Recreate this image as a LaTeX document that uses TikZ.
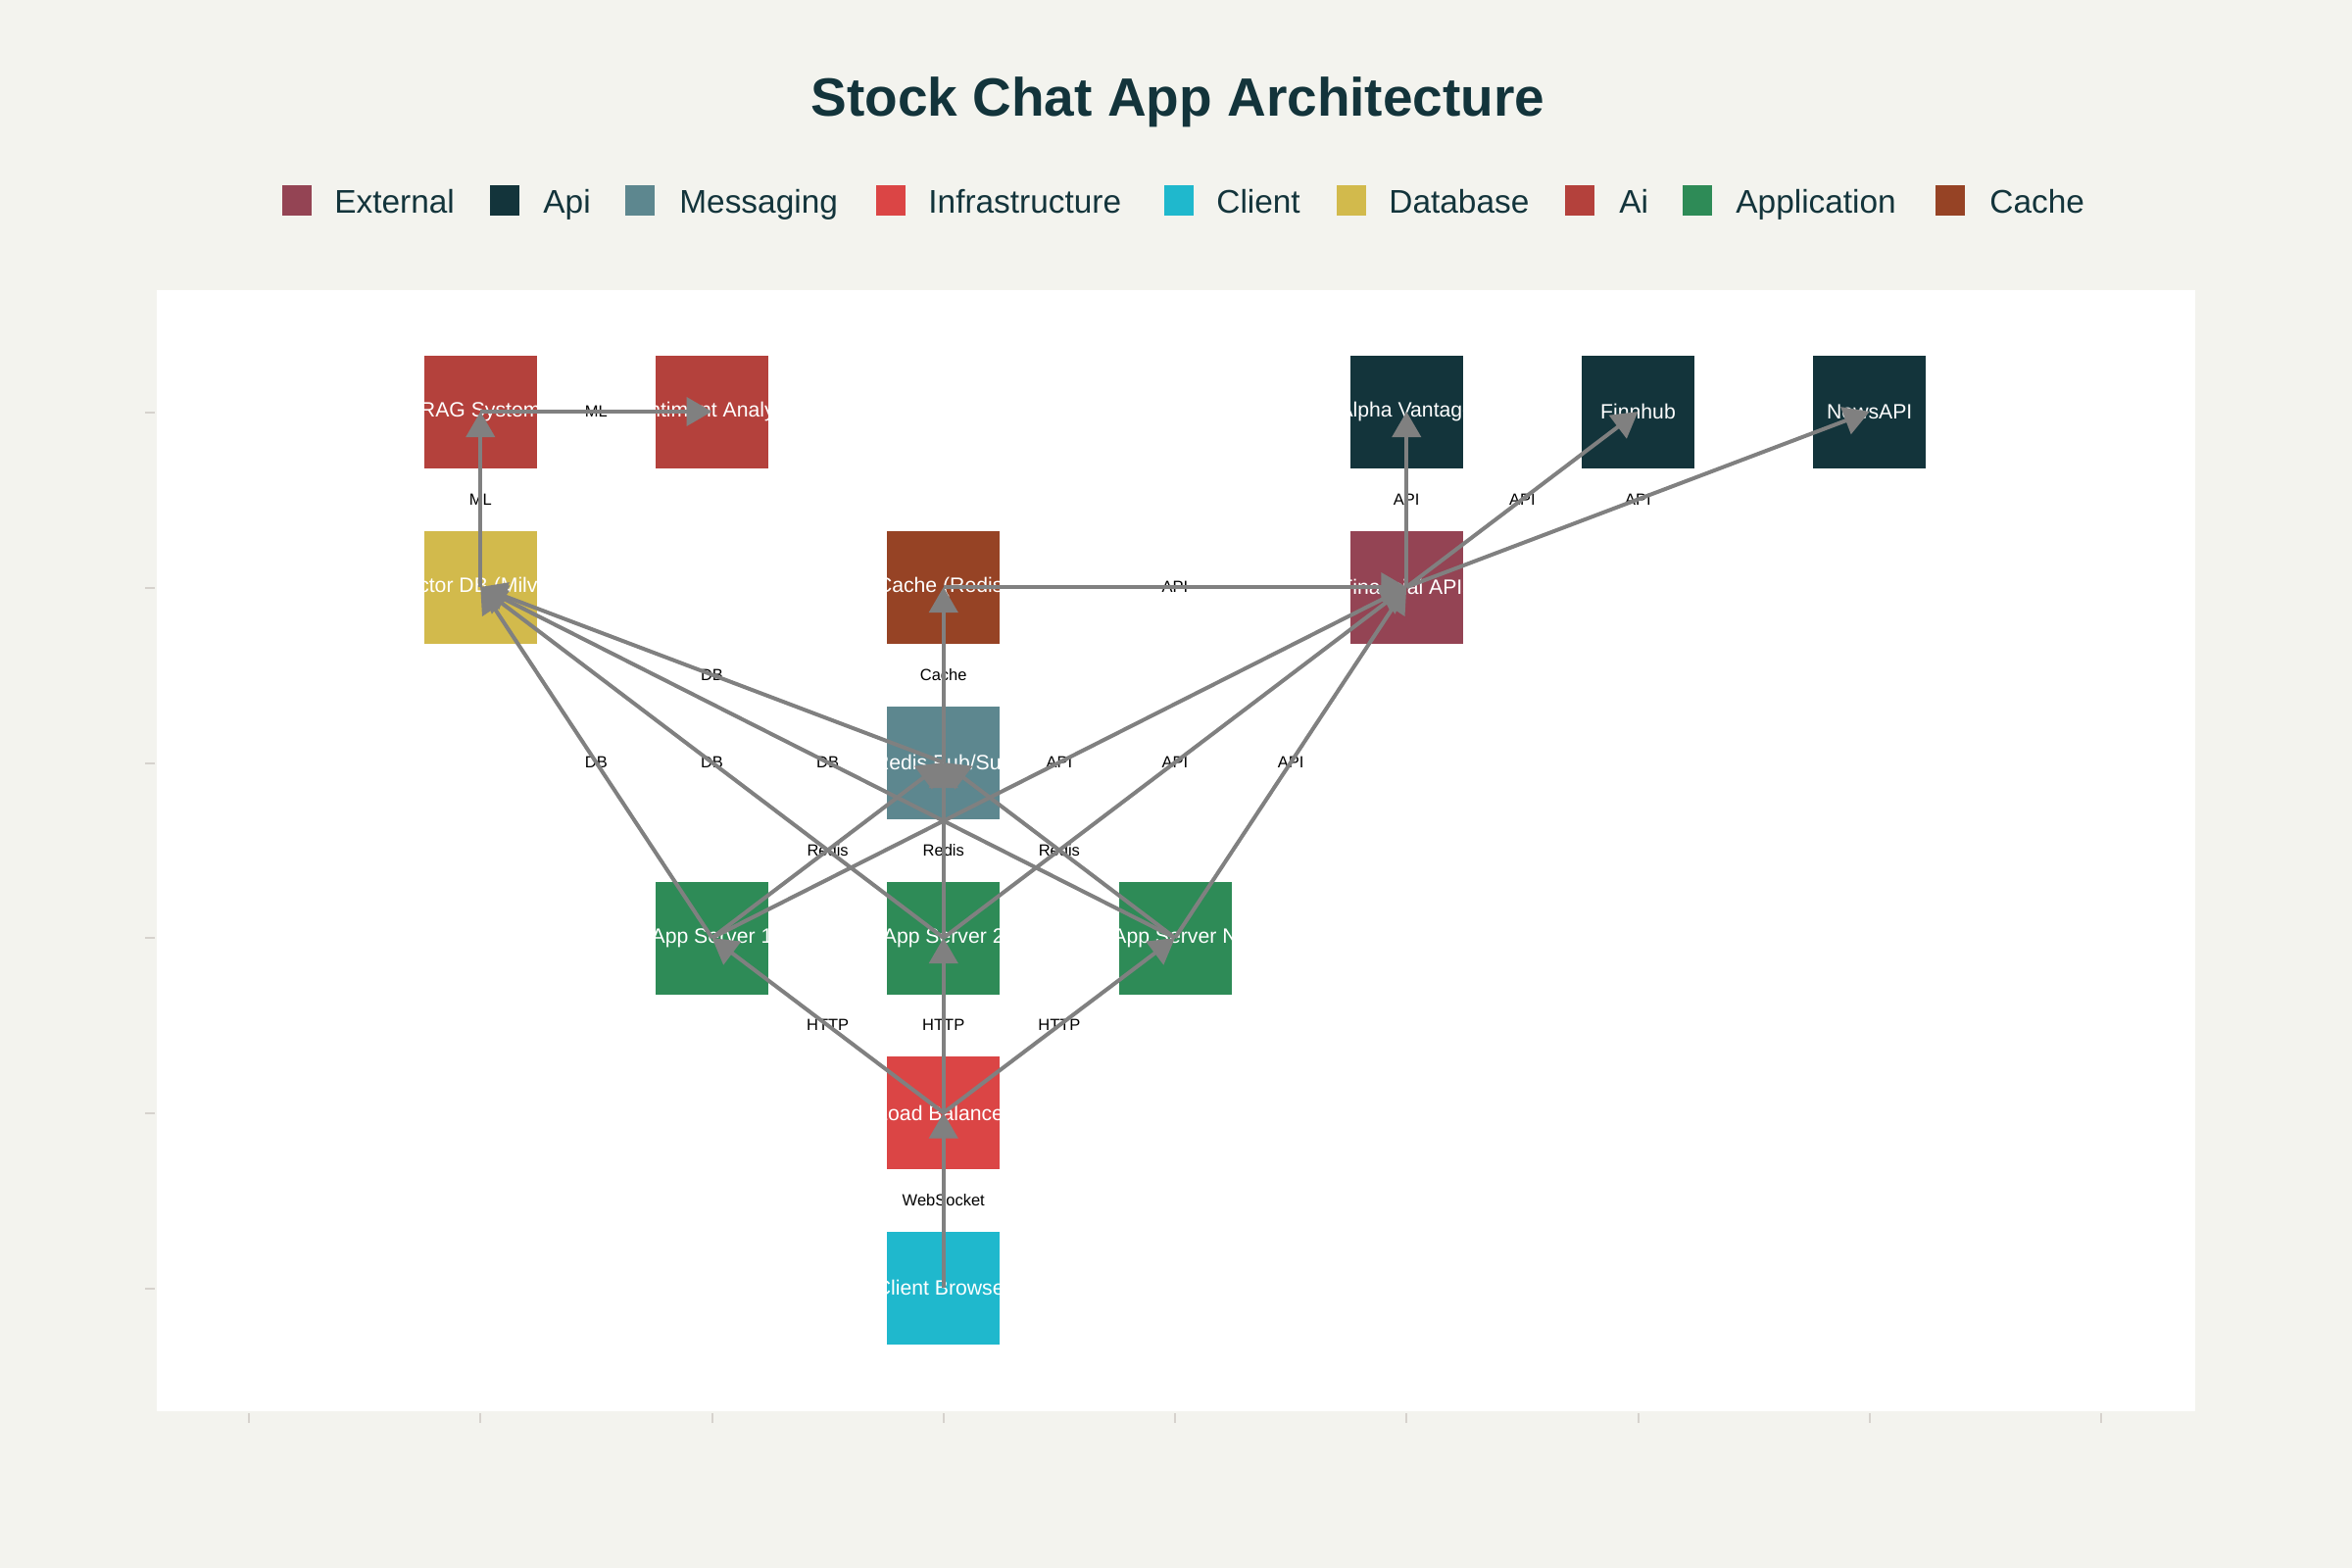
\documentclass[tikz,border=0pt]{standalone}
\usepackage{fontspec}
\setmainfont{Liberation Sans}
\usetikzlibrary{arrows.meta}
\definecolor{bgc}{HTML}{F3F3EE}
\definecolor{ttl}{HTML}{13343B}
\definecolor{cExt}{HTML}{944454}
\definecolor{cApi}{HTML}{13343B}
\definecolor{cMsg}{HTML}{5D878F}
\definecolor{cInf}{HTML}{DB4545}
\definecolor{cCli}{HTML}{1FB8CD}
\definecolor{cDb}{HTML}{D2BA4C}
\definecolor{cAi}{HTML}{B4413C}
\definecolor{cApp}{HTML}{2E8B57}
\definecolor{cCache}{HTML}{964325}
\definecolor{edgec}{HTML}{808080}
\definecolor{tickc}{HTML}{D6D2CD}
\begin{document}
\begin{tikzpicture}[x=0.5pt,y=-0.5pt,
  archbox/.style={rectangle, minimum width=57.5pt, minimum height=57.5pt, inner sep=0pt,
    text=white, font=\fontsize{10.6pt}{12.5pt}\selectfont},
  elabel/.style={font=\fontsize{8.25pt}{10pt}\selectfont, text=black, inner sep=0pt},
  conn/.style={draw=edgec, line width=2pt, -{Triangle[length=13pt,width=14.5pt]}},
  legsq/.style={rectangle, minimum width=15pt, minimum height=15.5pt, inner sep=0pt, anchor=north west},
  legtxt/.style={anchor=base west, inner sep=0pt, text=ttl, font=\fontsize{16.7pt}{19pt}\selectfont},
  tickmark/.style={draw=tickc, line width=1pt}
]
\fill[bgc] (0,0) rectangle (2400,1600);
\useasboundingbox (0,0) rectangle (2400,1600);
\fill[white] (160,296) rectangle (2240,1440);

% ticks
\foreach \i in {0,...,8} \draw[tickmark] ({254+236.25*\i},1442) -- ++(0,10);
\foreach \j in {0,...,5} \draw[tickmark] (148,{421+178.8*\j}) -- ++(10,0);

% title
\node[anchor=base, text=ttl, inner sep=0pt, font=\fontsize{27.5pt}{33pt}\selectfont\bfseries] (title) at (1202,119) {Stock Chat App Architecture};

% legend
\node[legsq, fill=cExt] (lg1) at (288,189) {};   \node[legtxt] (lt1) at (341,217) {External};
\node[legsq, fill=cApi] (lg2) at (500,189) {};   \node[legtxt] (lt2) at (554,217) {Api};
\node[legsq, fill=cMsg] (lg3) at (638,189) {};   \node[legtxt] (lt3) at (693,217) {Messaging};
\node[legsq, fill=cInf] (lg4) at (894,189) {};   \node[legtxt] (lt4) at (947,217) {Infrastructure};
\node[legsq, fill=cCli] (lg5) at (1188,189) {};  \node[legtxt] (lt5) at (1241,217) {Client};
\node[legsq, fill=cDb] (lg6) at (1364,189) {};   \node[legtxt] (lt6) at (1417,217) {Database};
\node[legsq, fill=cAi] (lg7) at (1597,189) {};   \node[legtxt] (lt7) at (1652,217) {Ai};
\node[legsq, fill=cApp] (lg8) at (1717,189) {};  \node[legtxt] (lt8) at (1771,217) {Application};
\node[legsq, fill=cCache] (lg9) at (1975,189) {};\node[legtxt] (lt9) at (2030,217) {Cache};

% nodes
\node[archbox, fill=cAi] (rag) at (490.25,420) {\makebox[0pt]{RAG System}};
\node[archbox, fill=cAi] (sent) at (726.5,420) {\makebox[0pt]{Sentiment Analysis}};
\node[archbox, fill=cApi] (alpha) at (1435.25,420) {\makebox[0pt]{Alpha Vantage}};
\node[archbox, fill=cApi] (finn) at (1671.5,420) {\makebox[0pt]{Finnhub}};
\node[archbox, fill=cApi] (news) at (1907.75,420) {\makebox[0pt]{NewsAPI}};
\node[archbox, fill=cDb] (vdb) at (490.25,599) {\makebox[0pt]{Vector DB (Milvus)}};
\node[archbox, fill=cCache] (cache) at (962.75,599) {\makebox[0pt]{Cache (Redis)}};
\node[archbox, fill=cExt] (fin) at (1435.25,599) {\makebox[0pt]{Financial APIs}};
\node[archbox, fill=cMsg] (redis) at (962.75,778) {\makebox[0pt]{Redis Pub/Sub}};
\node[archbox, fill=cApp] (app1) at (726.5,957) {\makebox[0pt]{App Server 1}};
\node[archbox, fill=cApp] (app2) at (962.75,957) {\makebox[0pt]{App Server 2}};
\node[archbox, fill=cApp] (appn) at (1199,957) {\makebox[0pt]{App Server N}};
\node[archbox, fill=cInf] (lb) at (962.75,1135.5) {\makebox[0pt]{Load Balancer}};
\node[archbox, fill=cCli] (client) at (962.75,1314) {\makebox[0pt]{Client Browser}};

% edge labels
\path (rag.center) -- node[elabel] (l1) {ML} (sent.center);
\path (vdb.center) -- node[elabel] (l2) {ML} (rag.center);
\path (cache.center) -- node[elabel] (l3) {API} (fin.center);
\path (fin.center) -- node[elabel] (l4) {API} (alpha.center);
\path (fin.center) -- node[elabel] (l5) {API} (finn.center);
\path (fin.center) -- node[elabel] (l6) {API} (news.center);
\path (redis.center) -- node[elabel] (l7) {Cache} (cache.center);
\path (redis.center) -- node[elabel] (l8) {DB} (vdb.center);
\path (app1.center) -- node[elabel] (l9) {DB} (vdb.center);
\path (app2.center) -- node[elabel] (l10) {DB} (vdb.center);
\path (appn.center) -- node[elabel] (l11) {DB} (vdb.center);
\path (app1.center) -- node[elabel] (l12) {API} (fin.center);
\path (app2.center) -- node[elabel] (l13) {API} (fin.center);
\path (appn.center) -- node[elabel] (l14) {API} (fin.center);
\path (app1.center) -- node[elabel] (l15) {Redis} (redis.center);
\path (app2.center) -- node[elabel] (l16) {Redis} (redis.center);
\path (appn.center) -- node[elabel] (l17) {Redis} (redis.center);
\path (lb.center) -- node[elabel] (l18) {HTTP} (app1.center);
\path (lb.center) -- node[elabel] (l19) {HTTP} (app2.center);
\path (lb.center) -- node[elabel] (l20) {HTTP} (appn.center);
\path (client.center) -- node[elabel] (l21) {WebSocket} (lb.center);

% connectors
\draw[conn] (rag.center) -- (sent.center);
\draw[conn] (vdb.center) -- (rag.center);
\draw[conn] (cache.center) -- (fin.center);
\draw[conn] (fin.center) -- (alpha.center);
\draw[conn] (fin.center) -- (finn.center);
\draw[conn] (fin.center) -- (news.center);
\draw[conn] (redis.center) -- (cache.center);
\draw[conn] (redis.center) -- (vdb.center);
\draw[conn] (app1.center) -- (vdb.center);
\draw[conn] (app2.center) -- (vdb.center);
\draw[conn] (appn.center) -- (vdb.center);
\draw[conn] (app1.center) -- (fin.center);
\draw[conn] (app2.center) -- (fin.center);
\draw[conn] (appn.center) -- (fin.center);
\draw[conn] (app1.center) -- (redis.center);
\draw[conn] (app2.center) -- (redis.center);
\draw[conn] (appn.center) -- (redis.center);
\draw[conn] (lb.center) -- (app1.center);
\draw[conn] (lb.center) -- (app2.center);
\draw[conn] (lb.center) -- (appn.center);
\draw[conn] (client.center) -- (lb.center);
\end{tikzpicture}
\end{document}
